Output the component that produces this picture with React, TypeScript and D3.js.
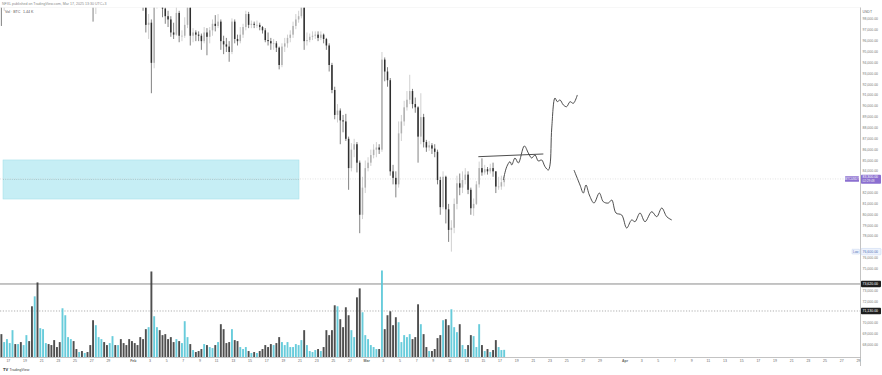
/**
 * BTC/USDT 8h candles with volume, a demand zone and hand-drawn projections
 */

import { useEffect } from 'react';
import * as d3 from 'd3';

const WIDTH = 882;
const HEIGHT = 375;
const PLOT_RIGHT = 860.5;
const PLOT_TOP = 7.5;
const PLOT_BOTTOM = 357.5;

const DAY_MS = 86400000;
const BAR_MS = DAY_MS / 3;
const FIRST_BAR = Date.UTC(2025, 0, 16);
const FEB_1 = Date.UTC(2025, 1, 1);

// prices in thousands of USDT, three 8h bars per day from Jan 16
const firstOpen = 100.0;
const closes = [
  99.4, 99.8, 100.5, 102.5, 104.5, 104.1, 104.5, 103.8, 104.4, 105.5, 102.5, 101.3,
  107.5, 102.5, 102.8, 104.0, 106.0, 105.8, 105.5, 104.8, 103.7, 102.5, 103.5, 103.9,
  104.8, 106.5, 104.9, 104.6, 104.8, 104.7, 104.8, 103.9, 102.6, 99.5, 101.6, 102.1,
  102.3, 101.8, 101.3, 102.9, 104.3, 103.7, 105.0, 104.8, 104.7, 104.5, 102.8, 102.4,
  101.3, 100.9, 100.6, 99.3, 97.5, 97.7, 94.0, 99.5, 101.4, 101.0, 99.0, 98.3,
  98.0, 96.8, 96.6, 98.6, 96.5, 96.5, 97.5, 99.5, 96.5, 96.8, 96.6, 96.5,
  96.0, 96.8, 96.4, 97.0, 97.6, 97.4, 97.8, 96.0, 95.7, 95.5, 95.0, 97.8,
  96.2, 96.0, 96.6, 97.3, 98.5, 97.5, 97.6, 97.5, 97.5, 97.3, 97.0, 96.1,
  96.0, 95.8, 95.8, 95.4, 93.8, 95.5, 95.8, 96.3, 96.6, 97.4, 98.0, 98.3,
  99.2, 96.0, 96.1, 96.4, 96.5, 96.6, 96.3, 96.6, 96.2, 95.6, 93.8, 91.5,
  89.2, 89.6, 88.7, 88.6, 87.0, 84.3, 86.0, 86.5, 84.8, 80.0, 82.5, 84.3,
  84.8, 85.5, 86.0, 86.2, 86.0, 94.3, 93.2, 92.4, 84.0, 83.4, 82.8, 87.5,
  88.6, 89.9, 90.6, 91.4, 90.2, 89.9, 87.2, 89.0, 86.7, 86.2, 86.4, 86.1,
  85.8, 83.2, 80.7, 83.5, 80.5, 78.6, 78.8, 81.0, 82.9, 82.5, 83.2, 83.7,
  82.3, 80.6, 81.0, 82.8, 84.3, 83.9, 84.2, 84.0, 84.3, 84.0, 82.6, 82.6,
  83.0, 83.3,
];
const highs = [
  100.2, 100.5, 100.9, 103.0, 105.0, 105.2, 105.0, 104.9, 104.9, 106.3, 105.8, 102.8,
  109.3, 108.0, 103.8, 104.5, 106.3, 107.0, 106.3, 106.0, 105.0, 104.0, 104.2, 106.5,
  106.0, 107.0, 106.7, 105.3, 105.2, 105.3, 105.4, 105.1, 104.0, 102.7, 102.0, 103.0,
  103.7, 103.0, 102.3, 103.5, 104.8, 104.5, 105.6, 106.4, 105.2, 106.0, 105.0, 103.5,
  102.6, 101.8, 101.4, 101.5, 99.5, 98.5, 98.0, 100.3, 102.5, 101.7, 101.0, 99.2,
  98.8, 98.3, 97.7, 99.2, 98.8, 97.0, 98.2, 100.1, 99.8, 97.2, 97.0, 96.9,
  96.7, 97.3, 97.2, 97.3, 98.0, 98.4, 98.5, 98.0, 96.5, 96.3, 96.0, 98.1,
  98.0, 96.6, 97.3, 97.6, 98.8, 98.7, 97.9, 97.8, 97.9, 97.7, 97.4, 97.2,
  96.8, 96.3, 96.2, 96.0, 95.5, 95.8, 96.3, 96.6, 97.0, 97.8, 98.5, 98.8,
  99.5, 99.3, 96.8, 96.7, 96.9, 96.9, 96.9, 96.9, 96.7, 96.3, 95.8, 94.0,
  91.8, 90.2, 89.8, 89.2, 89.3, 87.2, 86.6, 87.0, 86.7, 85.0, 83.5, 85.0,
  85.3, 86.0, 86.5, 86.7, 86.5, 95.0, 94.5, 93.6, 92.6, 84.6, 84.0, 88.6,
  89.2, 90.5, 91.4, 92.9, 91.6, 90.8, 90.0, 91.2, 89.3, 86.9, 86.8, 86.6,
  86.5, 86.0, 83.5, 84.0, 83.6, 81.0, 79.5, 81.5, 83.6, 83.8, 84.0, 84.3,
  84.0, 82.5, 81.5, 83.1, 84.9, 85.2, 84.6, 84.4, 84.7, 84.8, 84.0, 83.5,
  83.6, 83.6,
];
const lows = [
  97.4, 98.8, 99.5, 100.2, 102.0, 103.5, 103.2, 103.0, 103.2, 104.0, 101.2, 99.6,
  101.0, 101.5, 100.2, 101.5, 103.5, 105.0, 104.8, 103.8, 103.3, 101.3, 101.5, 102.5,
  103.5, 104.5, 104.5, 104.1, 104.3, 104.4, 104.3, 103.6, 102.2, 97.8, 98.5, 100.8,
  101.5, 101.3, 100.4, 101.3, 102.8, 103.0, 103.5, 104.3, 103.8, 104.0, 102.2, 101.5,
  100.9, 100.4, 99.8, 98.8, 96.8, 96.2, 91.2, 93.5, 99.0, 99.5, 98.2, 97.6,
  97.3, 96.4, 96.2, 96.5, 95.9, 96.0, 96.3, 97.2, 95.6, 95.9, 96.0, 96.0,
  95.2, 95.8, 94.7, 95.8, 96.5, 96.9, 97.2, 95.2, 94.8, 95.0, 94.1, 94.8,
  95.8, 95.6, 95.8, 96.3, 97.0, 97.2, 97.2, 97.2, 97.2, 97.0, 96.7, 95.9,
  95.6, 95.2, 95.2, 95.0, 93.4, 93.6, 95.0, 95.4, 95.9, 96.3, 97.1, 97.7,
  98.1, 95.2, 95.6, 95.9, 96.1, 96.2, 96.0, 96.1, 95.8, 95.2, 93.2, 91.2,
  88.8, 88.5, 86.5, 87.6, 86.8, 82.3, 84.0, 85.3, 83.9, 78.3, 79.6, 82.0,
  84.0, 84.5, 85.2, 85.3, 85.6, 85.8, 92.3, 91.8, 83.6, 82.8, 81.6, 82.5,
  86.8, 88.2, 89.6, 90.2, 89.8, 89.4, 84.8, 86.5, 86.2, 85.8, 85.9, 85.6,
  85.3, 82.8, 80.0, 80.5, 79.2, 77.5, 76.6, 78.3, 80.5, 81.8, 82.0, 82.8,
  81.9, 80.0, 79.9, 80.9, 82.5, 83.6, 83.7, 83.7, 83.8, 83.5, 82.0, 82.3,
  82.3, 82.6,
];
// volume in thousands of BTC
const volumes = [
  4.6, 3.0, 3.6, 2.8, 5.4, 2.6, 2.6, 3.0, 2.4, 4.4, 3.2, 10.2,
  12.2, 15.0, 5.8, 5.6, 2.8, 2.6, 2.4, 3.4, 2.0, 3.0, 9.8, 8.4,
  4.0, 3.6, 3.2, 1.6, 1.0, 1.2, 0.8, 1.0, 2.4, 7.4, 6.4, 4.0,
  3.6, 3.0, 2.4, 2.8, 4.2, 2.4, 2.4, 3.6, 2.8, 2.4, 3.6, 3.2,
  2.8, 2.4, 4.0, 3.6, 5.6, 6.0, 17.2, 8.2, 6.0, 5.4, 4.4, 4.6,
  3.6, 4.0, 3.0, 3.6, 3.2, 2.8, 7.2, 4.0, 2.6, 1.4, 1.0, 1.2,
  1.6, 2.6, 2.4, 2.0, 1.8, 2.4, 3.0, 6.6, 5.6, 2.8, 3.0, 5.6,
  3.4, 3.2, 2.0, 1.6, 2.0, 1.2, 0.8, 1.0, 0.8, 1.2, 1.6, 2.4,
  2.0, 2.6, 2.4, 2.8, 4.0, 3.0, 2.4, 3.0, 2.0, 2.0, 2.6, 2.4,
  3.4, 5.4, 2.4, 1.2, 1.0, 1.4, 1.6, 1.2, 2.0, 5.4, 4.4, 5.4,
  10.4, 10.2, 7.6, 6.0, 10.0, 8.4, 5.4, 4.0, 12.0, 13.8, 9.0, 4.4,
  3.6, 2.4, 2.0, 1.6, 1.6, 17.4, 5.6, 8.4, 9.2, 6.4, 8.0, 7.0,
  3.0, 4.4, 4.0, 4.6, 3.6, 4.0, 10.6, 6.6, 4.6, 2.0, 1.2, 1.2,
  1.6, 3.8, 4.4, 7.4, 7.6, 6.4, 9.6, 6.0, 5.0, 6.6, 2.4, 1.6,
  2.4, 4.4, 4.2, 2.0, 6.6, 2.4, 1.2, 1.6, 1.0, 1.4, 3.4, 2.0,
  1.4, 1.44,
];

const priceTicks = [
  67000, 68000, 69000, 70000, 71000, 72000, 73000, 74000, 75000, 76000, 77000,
  78000, 79000, 80000, 81000, 82000, 83000, 84000, 85000, 86000, 87000, 88000,
  89000, 90000, 91000, 92000, 93000, 94000, 95000, 96000, 97000, 98000,
];
const dateTicks = [
  '2025-01-17', '2025-01-19', '2025-01-21', '2025-01-23', '2025-01-25', '2025-01-27', '2025-01-29',
  '2025-02-01', '2025-02-03', '2025-02-05', '2025-02-07', '2025-02-09', '2025-02-11', '2025-02-13',
  '2025-02-15', '2025-02-17', '2025-02-19', '2025-02-21', '2025-02-23', '2025-02-25', '2025-02-27',
  '2025-03-01', '2025-03-03', '2025-03-05', '2025-03-07', '2025-03-09', '2025-03-11', '2025-03-13',
  '2025-03-15', '2025-03-17', '2025-03-19', '2025-03-21', '2025-03-23', '2025-03-25', '2025-03-27',
  '2025-03-29', '2025-04-01', '2025-04-03', '2025-04-05', '2025-04-07', '2025-04-09', '2025-04-11',
  '2025-04-13', '2025-04-15', '2025-04-17', '2025-04-19', '2025-04-21', '2025-04-23', '2025-04-25',
  '2025-04-27', '2025-04-29',
];

// drawings: [days after Feb 1, price in thousands]
const zoneDays = [-15.64, 19.88];
const zonePrices = [85.05, 81.45];
const solidLevel = 73.62;
const dottedLevel = 71.13;
const rangeLine: [number, number][] = [[41.4, 85.35], [49.2, 85.6]];
const pumpPath: [number, number][] = [
  [44.4, 83.2], [44.81, 84.43], [45.2, 84.89], [45.41, 84.59], [45.8, 85.23], [46.2, 84.77],
  [46.92, 86.34], [47.4, 85.69], [47.8, 85.23], [48.2, 85.51], [48.6, 84.95], [49.0, 85.05],
  [49.4, 84.43], [49.8, 84.12], [50.0, 84.59], [50.21, 88.0], [50.6, 90.76], [50.88, 90.42],
  [51.2, 90.58], [51.6, 90.12], [52.0, 89.96], [52.4, 90.42], [52.8, 90.27], [53.28, 91.04],
];
const dumpPath: [number, number][] = [
  [52.88, 84.12], [53.6, 82.74], [54.0, 82.0], [54.32, 82.74], [54.72, 81.82], [55.28, 81.08],
  [55.92, 82.0], [56.4, 81.2], [57.0, 81.08], [57.41, 81.36], [57.92, 80.16], [58.6, 79.98],
  [59.2, 78.78], [59.8, 79.52], [60.2, 79.36], [60.8, 80.16], [61.4, 79.36], [62.21, 80.28],
  [62.81, 79.82], [63.41, 80.62], [64.01, 79.82], [64.61, 79.52],
];
const countdown = '02:29:48';

const UP = '#b0b0b0';
const DOWN = '#2e2e2e';
const VOL_UP = '#58c7d7';
const VOL_DOWN = '#3c3c3c';
const PURPLE = '#8b6fd0';
const FONT = 'Liberation Sans, Arial, sans-serif';

const x = d3.scaleUtc()
  .domain([new Date(FIRST_BAR), new Date(Date.UTC(2025, 3, 1))])
  .range([0, 625]);
const y = d3.scaleLinear().domain([77000, 98000]).range([247.3, 19.45]);
const yVol = d3.scaleLinear().domain([0, 18]).range([PLOT_BOTTOM - 0.5, 267.5]);
const fmt = d3.format(',.2f');
const dayX = (d: number) => x(new Date(FEB_1 + d * DAY_MS));

const bars = closes.map((c, i) => {
  const open = i === 0 ? firstOpen : closes[i - 1];
  return {
    cx: x(new Date(FIRST_BAR + i * BAR_MS + BAR_MS / 2)),
    open: open * 1000,
    close: c * 1000,
    high: highs[i] * 1000,
    low: lows[i] * 1000,
    vol: volumes[i],
    up: c >= open,
  };
});

const lastPrice = closes[closes.length - 1] * 1000;
const lowPrice = d3.min(lows)! * 1000;

const drawLine = d3.line<[number, number]>()
  .x(d => dayX(d[0]))
  .y(d => y(d[1] * 1000))
  .curve(d3.curveCatmullRom.alpha(0.5));

function AxisLabel({ yPos, text, fill, color, stroke }: { yPos: number; text: string; fill: string; color: string; stroke?: string }) {
  return (
    <g>
      <rect x={861} y={yPos - 3.2} width={20} height={6.4} fill={fill} stroke={stroke ?? 'none'} strokeWidth={0.4} rx={0.8} />
      <text x={862.5} y={yPos} dominantBaseline="central" fontSize={3.5} fill={color}>{text}</text>
    </g>
  );
}

export default function App() {
  useEffect(() => {
    document.body.style.margin = '0';
  }, []);

  const specialY = [y(lastPrice), y(lowPrice), y(solidLevel * 1000), y(dottedLevel * 1000)];
  const visibleTicks = priceTicks.filter(p => {
    const py = y(p);
    return py > 14 && py < PLOT_BOTTOM - 3 && specialY.every(s => Math.abs(s - py) > 5.5);
  });

  const tickFmt = (d: Date) => d.getUTCDate() === 1 ? d3.utcFormat('%b')(d) : d3.utcFormat('%-d')(d);

  return (
    <svg width={WIDTH} height={HEIGHT} style={{ position: 'absolute', left: 0, top: 0, background: '#fff' }} fontFamily={FONT}>
      <defs>
        <clipPath id="plot">
          <rect x={0} y={PLOT_TOP} width={PLOT_RIGHT} height={PLOT_BOTTOM - PLOT_TOP} />
        </clipPath>
      </defs>
      <rect width={WIDTH} height={HEIGHT} fill="#fff" />

      <g clipPath="url(#plot)">
        {/* demand zone */}
        <rect
          x={dayX(zoneDays[0])}
          y={y(zonePrices[0] * 1000)}
          width={dayX(zoneDays[1]) - dayX(zoneDays[0])}
          height={y(zonePrices[1] * 1000) - y(zonePrices[0] * 1000)}
          fill="#c6eef5"
          stroke="#9fdde8"
          strokeWidth={0.5}
        />
        <line
          x1={dayX(zoneDays[0])}
          x2={dayX(zoneDays[1])}
          y1={y((zonePrices[0] + zonePrices[1]) * 500)}
          y2={y((zonePrices[0] + zonePrices[1]) * 500)}
          stroke="#8fb3b8"
          strokeWidth={0.6}
          strokeDasharray="1 1.2"
        />

        {/* last price line */}
        <line x1={0} x2={PLOT_RIGHT} y1={y(lastPrice)} y2={y(lastPrice)} stroke="#cfcfcf" strokeWidth={0.6} strokeDasharray="1 1.5" />

        {/* horizontal levels */}
        <line x1={0} x2={PLOT_RIGHT} y1={y(solidLevel * 1000)} y2={y(solidLevel * 1000)} stroke="#6b6b6b" strokeWidth={0.8} />
        <line x1={0} x2={PLOT_RIGHT} y1={y(dottedLevel * 1000)} y2={y(dottedLevel * 1000)} stroke="#9a9a9a" strokeWidth={0.8} strokeDasharray="1.2 1.6" />

        {/* volume */}
        {bars.map((b, i) => (
          <rect
            key={`v${i}`}
            x={b.cx - 0.95}
            y={yVol(b.vol)}
            width={1.9}
            height={yVol(0) - yVol(b.vol)}
            fill={b.up ? VOL_UP : VOL_DOWN}
            opacity={0.9}
          />
        ))}

        {/* candles */}
        {bars.map((b, i) => {
          const color = b.up ? UP : DOWN;
          const top = y(Math.max(b.open, b.close));
          const h = Math.max(0.7, Math.abs(y(b.open) - y(b.close)));
          return (
            <g key={`c${i}`}>
              <line x1={b.cx} x2={b.cx} y1={y(b.high)} y2={y(b.low)} stroke={color} strokeWidth={0.6} />
              <rect x={b.cx - 0.75} y={top} width={1.5} height={h} fill={color} />
            </g>
          );
        })}

        {/* projections */}
        <line
          x1={dayX(rangeLine[0][0])} y1={y(rangeLine[0][1] * 1000)}
          x2={dayX(rangeLine[1][0])} y2={y(rangeLine[1][1] * 1000)}
          stroke="#3a3a3a" strokeWidth={0.9}
        />
        <path d={drawLine(pumpPath) ?? ''} fill="none" stroke="#3a3a3a" strokeWidth={0.9} />
        <path d={drawLine(dumpPath) ?? ''} fill="none" stroke="#3a3a3a" strokeWidth={0.9} />
      </g>

      {/* header texts */}
      <text x={2} y={4.5} fontSize={3.6} fill="#8a8a8a">NFXL published on TradingView.com, Mar 17, 2025 13:30 UTC+3</text>
      <text x={5} y={13} fontSize={3.6} fill="#555">Vol · BTC</text>
      <text x={23} y={13} fontSize={3.6} fill="#555">1.44 K</text>

      {/* axes frame */}
      <line x1={0} x2={PLOT_RIGHT} y1={PLOT_TOP} y2={PLOT_TOP} stroke="#efefef" strokeWidth={0.5} />
      <line x1={PLOT_RIGHT} x2={PLOT_RIGHT} y1={PLOT_TOP} y2={366} stroke="#9a9a9a" strokeWidth={0.6} />
      <line x1={0} x2={PLOT_RIGHT} y1={PLOT_BOTTOM} y2={PLOT_BOTTOM} stroke="#9a9a9a" strokeWidth={0.6} />

      {/* price axis */}
      <text x={862.5} y={12.5} fontSize={3.5} fill="#666">USDT</text>
      {visibleTicks.map(p => (
        <text key={p} x={862.5} y={y(p)} dominantBaseline="central" fontSize={3.5} fill="#777">{fmt(p)}</text>
      ))}
      <AxisLabel yPos={y(solidLevel * 1000)} text={fmt(solidLevel * 1000)} fill="#1e1e1e" color="#fff" />
      <AxisLabel yPos={y(dottedLevel * 1000)} text={fmt(dottedLevel * 1000)} fill="#1e1e1e" color="#fff" />
      <AxisLabel yPos={y(lowPrice)} text={fmt(lowPrice)} fill="#eef3fc" color="#4e6fb8" stroke="#b9cbee" />
      <rect x={852} y={y(lowPrice) - 2.4} width={7.5} height={4.8} fill="#eef3fc" stroke="#b9cbee" strokeWidth={0.4} rx={0.6} />
      <text x={855.75} y={y(lowPrice)} textAnchor="middle" dominantBaseline="central" fontSize={3} fill="#4e6fb8">Low</text>

      {/* last price */}
      <rect x={845} y={y(lastPrice) - 2.8} width={14} height={5.6} fill={PURPLE} rx={0.6} />
      <text x={852} y={y(lastPrice)} textAnchor="middle" dominantBaseline="central" fontSize={3} fill="#fff">BTCUSDT</text>
      <rect x={861} y={y(lastPrice) - 4.2} width={20} height={9} fill={PURPLE} rx={0.8} />
      <text x={862.5} y={y(lastPrice) - 1.6} dominantBaseline="central" fontSize={3.5} fill="#fff">{fmt(lastPrice)}</text>
      <text x={862.5} y={y(lastPrice) + 2.2} dominantBaseline="central" fontSize={3.1} fill="#eee">{countdown}</text>

      {/* time axis */}
      {dateTicks.map(s => {
        const d = new Date(s + 'T00:00:00Z');
        const label = tickFmt(d);
        return (
          <text
            key={s}
            x={x(d)}
            y={361.5}
            textAnchor="middle"
            fontSize={3.5}
            fill="#666"
            fontWeight={label.length > 2 ? 'bold' : 'normal'}
          >
            {label}
          </text>
        );
      })}

      {/* TradingView mark */}
      <text x={3} y={371} fontSize={4} fontWeight="bold" fill="#222">TV</text>
      <text x={9.5} y={371} fontSize={3.6} fill="#444">TradingView</text>
    </svg>
  );
}
